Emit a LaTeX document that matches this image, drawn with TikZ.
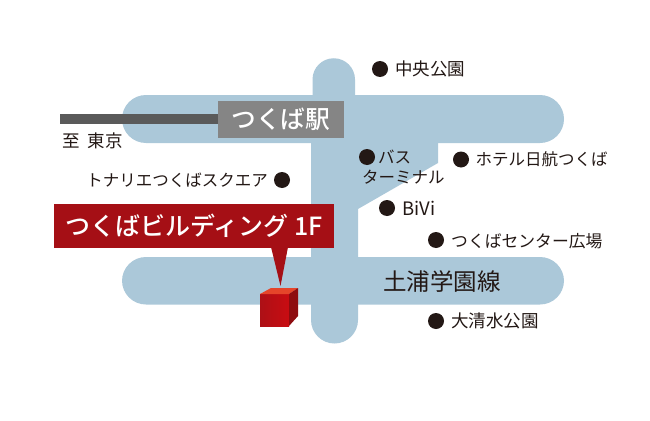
\documentclass[tikz,border=0pt]{standalone}
\usepackage{fontspec}
\setmainfont{Noto Sans CJK JP}
\newfontfamily\jpmed{Noto Sans CJK JP Medium}
\definecolor{road}{HTML}{ABC8D9}
\definecolor{rail}{HTML}{5A5A5A}
\definecolor{station}{HTML}{858585}
\definecolor{signred}{HTML}{A50F15}
\definecolor{cubefrontl}{HTML}{AD1016}
\definecolor{cubefrontr}{HTML}{C90C12}
\definecolor{cubetop}{HTML}{E5452A}
\definecolor{cubeside}{HTML}{8E0C10}
\definecolor{ink}{HTML}{231815}
\tikzset{
  x=1pt,y=-1pt,
  spot/.style={circle,fill=ink,draw=none,minimum size=16pt,inner sep=0pt},
  lbl/.style={anchor=west,inner sep=0pt,text=ink,font=\fontsize{16.5}{20}\selectfont},
  lblbig/.style={lbl,font=\fontsize{17.5}{20}\selectfont},
  roadfill/.style={fill=road,draw=none},
}
\begin{document}
\begin{tikzpicture}
\useasboundingbox (0,0) rectangle (650,420);
\fill[white] (0,0) rectangle (650,420);
% roads
\fill[roadfill,rounded corners=24pt] (122,95) rectangle (564,143);
\fill[roadfill,rounded corners=24pt] (122,257) rectangle (564,304.5);
\fill[roadfill] (312.5,79.5) arc[start angle=180,end angle=360,radius=21.25] -- (355,143) -- (438,143) -- (438,163) -- (358,209) -- (358,320) arc[start angle=0,end angle=180,radius=23.5] -- (311,143) -- (312.5,143) -- cycle;
% rail and station
\fill[rail] (60,114) rectangle (218,124);
\node[fill=station,minimum width=125.5pt,minimum height=37pt,inner sep=0pt,text=white,font=\fontsize{24.7}{28}\selectfont\jpmed] (station) at (280.75,119.5) {つくば駅};
\node[lblbig] (tokyo) at (62,140.5) {至\hspace{8pt}東京};
% pointer and sign
\fill[signred] (271,247) -- (288,247) -- (280.5,286) -- cycle;
\node[fill=signred,minimum width=280pt,minimum height=44pt,inner sep=0pt,text=white,font=\fontsize{25}{28}\selectfont\jpmed] (sign) at (194,226) {つくばビルディング 1F};
% cube
\shade[left color=cubefrontl,right color=cubefrontr] (260,294) rectangle (289,326);
\fill[cubetop] (260,294) -- (271,288) -- (298,288) -- (289,294) -- cycle;
\fill[cubeside] (289,294) -- (298,288) -- (298,316) -- (289,326) -- cycle;
% places
\node[spot] (d1) at (380,69) {};
\node[lblbig] (t1) at (395,69) {中央公園};
\node[spot] (d2) at (282,180) {};
\node[lbl,anchor=east] (t2) at (268,180) {トナリエつくばスクエア};
\node[spot] (d3) at (367,157) {};
\node[lbl] (t3) at (378,157) {バス};
\node[lbl] (t3b) at (362,177) {ターミナル};
\node[spot] (d4) at (461,159.5) {};
\node[lbl] (t4) at (475.5,159.5) {ホテル日航つくば};
\node[spot] (d5) at (387,208) {};
\node[lbl,font=\fontsize{18.5}{20}\selectfont] (t5) at (402,208) {BiVi};
\node[spot] (d6) at (436,240) {};
\node[lbl,font=\fontsize{16.8}{20}\selectfont] (t6) at (451,241) {つくばセンター広場};
\node[lblbig] (t7) at (451,321) {大清水公園};
\node[spot] (d7) at (436,321) {};
\node[lbl,font=\fontsize{23.5}{28}\selectfont] (t8) at (383,282) {土浦学園線};
\end{tikzpicture}
\end{document}
